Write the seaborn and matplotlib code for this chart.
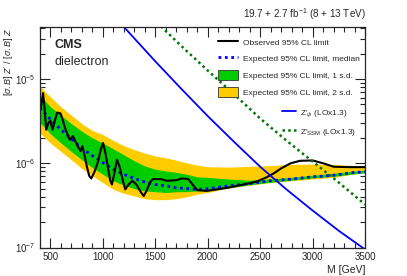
import numpy as np
import pandas as pd
import matplotlib
matplotlib.use("Agg")
import matplotlib.pyplot as plt
import matplotlib.ticker as mticker
from matplotlib.patches import Patch
from matplotlib.lines import Line2D
import seaborn as sns

# Expected limits
mass_exp = [400, 450, 500, 600, 700, 800, 900, 1000, 1100, 1200, 1300, 1400, 1500,
            1600, 1700, 1800, 1900, 2000, 2200, 2400, 2600, 2800, 3000, 3200, 3400, 3500]
exp_median = [4.57e-6, 3.89e-6, 3.31e-6, 2.51e-6, 1.95e-6, 1.51e-6, 1.23e-6, 1.02e-6, 8.5e-7,
              7.4e-7, 6.6e-7, 6.0e-7, 5.6e-7, 5.4e-7, 5.1e-7, 5.0e-7, 4.9e-7, 5.0e-7, 5.4e-7,
              5.75e-7, 6.2e-7, 6.5e-7, 6.9e-7, 7.2e-7, 7.8e-7, 7.9e-7]
exp_1s_hi = [6.31e-6, 5.50e-6, 4.68e-6, 3.72e-6, 2.95e-6, 2.40e-6, 2.00e-6, 1.74e-6, 1.48e-6,
             1.26e-6, 1.07e-6, 9.3e-7, 8.5e-7, 8.1e-7, 7.8e-7, 7.4e-7, 6.9e-7, 6.8e-7, 6.5e-7,
             6.3e-7, 6.5e-7, 6.8e-7, 7.2e-7, 7.6e-7, 8.1e-7, 8.3e-7]
exp_1s_lo = [3.02e-6, 2.63e-6, 2.24e-6, 1.74e-6, 1.38e-6, 1.10e-6, 8.9e-7, 7.4e-7, 6.2e-7,
             5.5e-7, 5.0e-7, 4.7e-7, 4.6e-7, 4.5e-7, 4.6e-7, 4.6e-7, 4.7e-7, 4.8e-7, 5.1e-7,
             5.56e-7, 5.96e-7, 6.3e-7, 6.7e-7, 7.0e-7, 7.5e-7, 7.7e-7]
exp_2s_hi = [8.32e-6, 7.08e-6, 6.17e-6, 4.68e-6, 3.72e-6, 2.95e-6, 2.45e-6, 2.19e-6, 1.86e-6,
             1.62e-6, 1.45e-6, 1.32e-6, 1.22e-6, 1.16e-6, 1.09e-6, 1.01e-6, 9.5e-7, 9.1e-7, 9.0e-7,
             9.2e-7, 9.4e-7, 9.7e-7, 9.8e-7, 9.7e-7, 9.4e-7, 9.3e-7]
exp_2s_lo = [2.29e-6, 2.00e-6, 1.74e-6, 1.38e-6, 1.10e-6, 8.7e-7, 7.1e-7, 5.9e-7, 4.9e-7,
             4.4e-7, 4.1e-7, 3.8e-7, 3.7e-7, 3.7e-7, 3.8e-7, 4.0e-7, 4.3e-7, 4.5e-7, 5.1e-7,
             5.5e-7, 5.9e-7, 6.2e-7, 6.5e-7, 6.8e-7, 7.5e-7, 7.8e-7]

# Observed limit
mass_obs = [400, 415, 430, 445, 460, 480, 500, 520, 545, 565, 597, 620, 640, 670, 685, 715,
            740, 760, 788, 805, 825, 845, 870, 890, 920, 955, 980, 1002, 1025, 1050, 1070,
            1087, 1110, 1135, 1160, 1190, 1214, 1245, 1280, 1320, 1360, 1390, 1420, 1450,
            1480, 1550, 1610, 1700, 1750, 1815, 1860, 1900, 1990, 2180, 2400, 2470, 2560,
            2630, 2700, 2790, 2880, 3000, 3100, 3200, 3350, 3500]
obs_limit = [4.0e-6, 5.0e-6, 6.8e-6, 4.5e-6, 2.5e-6, 3.0e-6, 3.2e-6, 2.5e-6, 3.3e-6, 4.0e-6,
             3.9e-6, 3.2e-6, 2.6e-6, 2.1e-6, 1.9e-6, 2.1e-6, 1.8e-6, 1.6e-6, 1.4e-6, 1.6e-6,
             1.26e-6, 9.5e-7, 7.1e-7, 6.6e-7, 7.9e-7, 1.05e-6, 1.45e-6, 1.74e-6, 1.32e-6,
             8.7e-7, 6.3e-7, 5.6e-7, 7.6e-7, 1.10e-6, 9.1e-7, 6.3e-7, 4.9e-7, 5.6e-7, 6.2e-7,
             5.6e-7, 4.6e-7, 4.1e-7, 4.8e-7, 6.0e-7, 6.5e-7, 6.5e-7, 6.2e-7, 6.3e-7, 6.6e-7,
             6.5e-7, 5.5e-7, 4.8e-7, 4.7e-7, 5.1e-7, 5.8e-7, 6.1e-7, 6.8e-7, 7.6e-7, 8.7e-7,
             1.0e-6, 1.07e-6, 1.08e-6, 1.0e-6, 9.1e-7, 9.0e-7, 9.0e-7]

# Theory curves
mass_th = [1100, 1250, 1500, 1750, 2000, 2250, 2500, 2750, 3000, 3250, 3500]
zpsi = [5.75e-5, 3.55e-5, 1.62e-5, 7.6e-6, 3.63e-6, 1.80e-6, 9.1e-7, 4.9e-7, 2.75e-7,
        1.58e-7, 9.5e-8]
mass_ssm = [1400, 1500, 1750, 2000, 2250, 2500, 2750, 3000, 3250, 3500]
zssm = [6.6e-5, 4.9e-5, 2.45e-5, 1.26e-5, 6.6e-6, 3.4e-6, 1.86e-6, 1.05e-6, 5.9e-7, 3.24e-7]

sns.set_style("ticks")
plt.rcParams["font.family"] = ["Liberation Sans", "DejaVu Sans"]
plt.rcParams["mathtext.fontset"] = "custom"
plt.rcParams["mathtext.rm"] = "Liberation Sans"
plt.rcParams["mathtext.it"] = "Liberation Sans:italic"
plt.rcParams["mathtext.bf"] = "Liberation Sans:bold"

fig = plt.figure(figsize=(4.07, 2.76), dpi=100)
ax = fig.add_axes([0.098, 0.103, 0.799, 0.798])

col_1s = "#00cc00"
col_2s = "#ffcc00"

ax.fill_between(mass_exp, exp_2s_lo, exp_2s_hi, color=col_2s, lw=0)
ax.fill_between(mass_exp, exp_1s_lo, exp_1s_hi, color=col_1s, lw=0)

sns.lineplot(x=mass_exp, y=exp_median, ax=ax, color="#0000ff", lw=2.0,
             linestyle=(0, (1, 1.3)), estimator=None, sort=False)
sns.lineplot(x=mass_obs, y=obs_limit, ax=ax, color="black", lw=1.5,
             estimator=None, sort=False)
sns.lineplot(x=mass_th, y=zpsi, ax=ax, color="#0000ff", lw=1.3,
             estimator=None, sort=False)
sns.lineplot(x=mass_ssm, y=zssm, ax=ax, color="#007700", lw=1.8,
             linestyle=(0, (1, 1.3)), estimator=None, sort=False)

ax.set_yscale("log")
ax.set_xlim(400, 3500)
ax.set_ylim(1e-7, 4.1e-5)

ax.xaxis.set_major_locator(mticker.MultipleLocator(500))
ax.xaxis.set_minor_locator(mticker.MultipleLocator(100))
ax.yaxis.set_major_locator(mticker.LogLocator(base=10, numticks=10))
ax.yaxis.set_minor_locator(mticker.LogLocator(base=10, subs=np.arange(2, 10), numticks=10))
ax.yaxis.set_minor_formatter(mticker.NullFormatter())
ax.tick_params(which="both", direction="in", top=True, right=True, labelsize=7, width=0.8)
ax.tick_params(which="major", length=7)
ax.tick_params(which="minor", length=3.5)
for s in ax.spines.values():
    s.set_linewidth(0.9)

ax.set_xlabel("M [GeV]", fontsize=7.5, ha="right", x=1.0)
ax.set_ylabel(r"$[\sigma.B]\ Z'\ /\ [\sigma.B]\ Z$", fontsize=6.5, ha="right", y=1.0)
ax.xaxis.set_label_coords(1.0, -0.08)
ax.yaxis.set_label_coords(-0.072, 1.0)

ax.text(0.045, 0.905, "CMS", transform=ax.transAxes, fontsize=9, fontweight="bold")
ax.text(0.045, 0.83, "dielectron", transform=ax.transAxes, fontsize=9)
fig.text(0.899, 0.935, r"19.7 + 2.7 fb$^{\mathregular{-1}}$ (8 + 13 TeV)", ha="right",
         fontsize=7.1)

h1 = [Line2D([], [], color="black", lw=1.5),
      Line2D([], [], color="#0000ff", lw=2.0, linestyle=(0, (1, 1.3))),
      Patch(facecolor=col_1s, edgecolor="#333333", lw=0.6),
      Patch(facecolor=col_2s, edgecolor="#333333", lw=0.6)]
l1 = ["Observed 95% CL limit", "Expected 95% CL limit, median",
      "Expected 95% CL limit, 1 s.d.", "Expected 95% CL limit, 2 s.d."]
leg1 = ax.legend(h1, l1, loc="upper left", bbox_to_anchor=(0.536, 0.866),
                 bbox_transform=fig.transFigure, frameon=False, fontsize=6,
                 handlelength=2.4, handleheight=1.4, labelspacing=0.85,
                 handletextpad=0.6, borderpad=0, borderaxespad=0)
ax.add_artist(leg1)

h2 = [Line2D([], [], color="#0000ff", lw=1.3),
      Line2D([], [], color="#007700", lw=1.8, linestyle=(0, (1, 1.3)))]
l2 = [r"Z'$_{\psi}$ (LOx1.3)", r"Z'$_{\mathregular{SSM}}$ (LOx1.3)"]
ax.legend(h2, l2, loc="upper left", bbox_to_anchor=(0.693, 0.612),
          bbox_transform=fig.transFigure, frameon=False, fontsize=6,
          handlelength=1.7, handleheight=1.4, labelspacing=0.85,
          handletextpad=0.4, borderpad=0, borderaxespad=0)

fig.savefig("out.png", dpi=100)
